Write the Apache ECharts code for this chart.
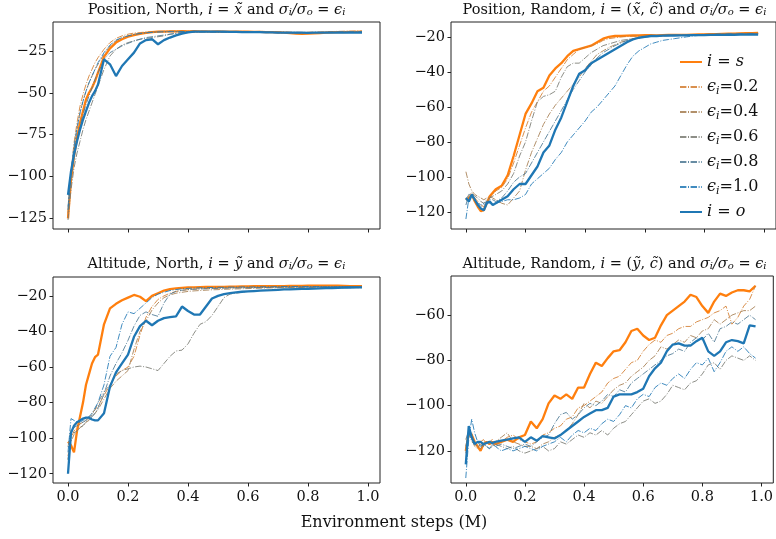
<!DOCTYPE html>
<html><head><meta charset="utf-8">
<script src="https://cdn.jsdelivr.net/npm/echarts@6/dist/echarts.min.js"></script>
<style>html,body{margin:0;padding:0;background:#fff}#c{width:776px;height:539px}</style>
</head><body><div id="c"></div>
<script>
// Environment steps (M)
const X = [0,0.01,0.02,0.03,0.04,0.05,0.06,0.07,0.08,0.09,0.10,0.12,0.14,0.16,0.18,0.20,0.22,0.24,0.26,0.28,0.30,0.32,0.34,0.36,0.38,0.40,0.42,0.44,0.46,0.48,0.50,0.52,0.54,0.56,0.58,0.60,0.62,0.64,0.66,0.68,0.70,0.72,0.74,0.76,0.78,0.80,0.82,0.84,0.86,0.88,0.90,0.92,0.94,0.96,0.98];

// Tick labels
const X_TICKS = [0,0.2,0.4,0.6,0.8,1.0];
const Y_TICKS_1 = [-125,-100,-75,-50,-25];
const Y_TICKS_2 = [-120,-100,-80,-60,-40,-20];
const Y_TICKS_3 = [-120,-100,-80,-60,-40,-20];
const Y_TICKS_4 = [-120,-100,-80,-60];

const SERIES_NAMES = ['s','0.2','0.4','0.6','0.8','1.0','o'];
const TITLES = [
  'Position, North, {m|i} = {m|x\u0303} and {m|σ}{s|i}{m|/σ}{s|o} = {m|ϵ}{s|i}',
  'Position, Random, {m|i} = ({m|x\u0303}, {m|c\u0303}) and {m|σ}{s|i}{m|/σ}{s|o} = {m|ϵ}{s|i}',
  'Altitude, North, {m|i} = {m|y\u0303} and {m|σ}{s|i}{m|/σ}{s|o} = {m|ϵ}{s|i}',
  'Altitude, Random, {m|i} = ({m|y\u0303}, {m|c\u0303}) and {m|σ}{s|i}{m|/σ}{s|o} = {m|ϵ}{s|i}'
];

// Panel 1: Position, North
const P1_S   = [-125,-102,-88,-77,-68,-61,-54,-50,-47,-43,-38, -28.5,-23.5,-20,-18,-16.5,-15.5,-14.8,-14.2,-13.8,-13.5, -13.4,-13.3,-13.3,-13.2,-13.3,-13.2,-13.3,-13.3,-13.4,-13.3, -13.4,-13.5,-13.4,-13.5,-13.5,-13.6,-13.6,-13.7,-13.8,-13.9, -14.1,-14.3,-14.6,-14.8,-14.7,-14.5,-14.3,-14.1,-13.9,-13.8, -13.7,-13.6,-13.6,-13.5];
const P1_E02 = [-124,-98,-80,-68,-58,-51,-45,-40,-36,-32,-29, -24,-20,-17.5,-16,-15,-14.3,-14,-13.7,-13.5,-13.3, -13.2,-13.1,-13.1,-13.2,-13.1,-13.2,-13.2,-13.3,-13.2,-13.3, -13.3,-13.4,-13.3,-13.3,-13.4,-13.4,-13.3,-13.4,-13.5,-13.5, -13.6,-13.7,-13.8,-13.9,-13.8,-13.7,-13.6,-13.5,-13.4,-13.3, -13.2,-13.2,-13.1,-13.1];
const P1_E04 = [-122,-100,-84,-72,-62,-55,-49,-44,-40,-36,-33, -27,-22,-19,-17,-16,-15,-14.5,-14,-13.8,-13.6, -13.5,-13.4,-13.4,-13.3,-13.4,-13.4,-13.5,-13.4,-13.5,-13.5, -13.6,-13.6,-13.7,-13.7,-13.7,-13.8,-13.8,-13.9,-13.9,-14, -14,-14.1,-14.1,-14.1,-14.0,-14.0,-13.9,-13.9,-13.8,-13.8, -13.7,-13.7,-13.6,-13.6];
const P1_E06 = [-126,-108,-95,-86,-79,-72,-66,-61,-56,-51,-46, -36,-28,-24,-21.5,-20,-19,-18,-17.5,-17,-16.5, -16,-15,-14.5,-14,-13.8,-13.7,-13.6,-13.6,-13.5,-13.6, -13.6,-13.7,-13.7,-13.8,-13.8,-13.9,-13.9,-14,-14,-14.1, -14.1,-14.2,-14.2,-14.1,-14.1,-14,-14,-13.9,-13.9,-13.8, -13.8,-13.7,-13.7,-13.7];
const P1_E08 = [-118,-100,-88,-78,-70,-63,-57,-52,-47,-42,-38, -30,-26,-24,-22,-20.5,-19,-18,-17,-16.5,-16, -15.5,-15,-14.5,-14,-13.7,-13.6,-13.5,-13.5,-13.6,-13.6, -13.7,-13.7,-13.8,-13.8,-13.9,-13.9,-14,-14,-14,-14.1, -14.1,-14.1,-14.2,-14.2,-14.1,-14.1,-14,-14,-13.9,-13.9, -13.8,-13.8,-13.8,-13.7];
const P1_E10 = [-120,-97,-82,-71,-62,-55,-49,-44,-40,-36,-32, -26,-21.5,-18.5,-17,-16,-15.2,-14.6,-14.2,-13.9,-13.7, -13.6,-13.5,-13.5,-13.4,-13.4,-13.5,-13.5,-13.5,-13.6,-13.6, -13.6,-13.7,-13.7,-13.8,-13.8,-13.8,-13.9,-13.9,-14,-14, -14,-14.1,-14.1,-14.1,-14,-14,-14,-13.9,-13.9,-13.8, -13.8,-13.8,-13.7,-13.7];
const P1_O   = [-111,-97,-87,-79,-72,-66,-61,-56,-52,-49,-45, -30,-33,-40,-34,-30,-26,-20.5,-18.5,-18,-21, -18.5,-17,-15.7,-14.6,-13.9,-13.5,-13.4,-13.4,-13.5,-13.4, -13.5,-13.6,-13.6,-13.7,-13.7,-13.8,-13.8,-13.9,-13.9,-14, -14,-14.1,-14.1,-14.1,-14.2,-14.1,-14.1,-14.1,-14.0,-14.1, -14.1,-14.0,-14.1,-14.1];

// Panel 2: Position, Random
const P2_S   = [-113,-112,-110,-114,-117,-119.5,-119,-115,-111,-109,-107, -105,-99,-88,-76,-64,-58,-51,-49,-42,-38, -35,-31,-28,-27,-26,-25,-23,-21,-20,-19.5, -19.5,-19.3,-19.2,-19.2,-19,-19,-19.1,-19,-18.9,-18.9, -18.8,-18.8,-18.7,-18.6,-18.6,-18.5,-18.4,-18.3,-18.2,-18.1, -18,-17.9,-17.8,-17.7];
const P2_E02 = [-112,-113,-111,-112,-114,-116,-117,-115,-112,-110,-108, -106,-101,-92,-82,-72,-63,-57,-51,-48,-43, -38,-33,-30,-27,-26,-25,-24,-22,-21,-20.5, -20,-19.8,-19.6,-19.5,-19.4,-19.3,-19.2,-19.1,-19,-19, -18.9,-18.8,-18.7,-18.6,-18.5,-18.4,-18.3,-18.2,-18.1,-18, -18,-17.9,-17.9,-17.8];
const P2_E04 = [-97,-104,-108,-110,-111,-112,-113,-112,-111,-112,-113, -115,-116,-112,-108,-96,-86,-78,-70,-64,-59, -55,-51,-47,-43,-38,-34,-30,-28,-26,-24.5, -23,-22,-21,-20.5,-20,-19.7,-19.5,-19.3,-19.2,-19.1, -19,-18.9,-18.8,-18.7,-18.6,-18.5,-18.4,-18.3,-18.2,-18.2, -18.1,-18.1,-18,-18];
const P2_E06 = [-113,-110,-109,-111,-112,-114,-115,-113,-112,-111,-110, -108,-104,-98,-88,-80,-68,-57,-54,-53,-51, -43,-37,-35,-35,-32,-29,-27,-25,-24,-23, -22,-21.5,-21,-20.5,-20,-19.8,-19.6,-19.4,-19.3,-19.2, -19.1,-19,-18.9,-18.8,-18.8,-18.7,-18.6,-18.6,-18.5,-18.5, -18.4,-18.4,-18.3,-18.3];
const P2_E08 = [-116,-110,-111,-114,-116,-117,-116,-114,-113,-113,-114, -112,-108,-103,-100,-98,-92,-86,-80,-74,-68, -62,-56,-50,-45,-40,-36,-32,-29,-27,-25, -23.5,-22,-21,-20.5,-20,-19.8,-19.6,-19.4,-19.3,-19.2, -19.1,-19,-18.9,-18.8,-18.8,-18.7,-18.6,-18.6,-18.5,-18.5, -18.5,-18.4,-18.4,-18.4];
const P2_E10 = [-124,-112,-111,-113,-115,-116,-115,-114,-115,-116,-115, -114,-113,-113,-112,-110,-104,-101,-98,-95,-90, -86,-80,-76,-72,-68,-63,-60,-56,-52,-48, -42,-36,-31,-28,-26,-24,-23,-22,-21.5,-21, -20.5,-20,-19.5,-19.2,-19,-18.8,-18.5,-18.5,-18.4,-18.4, -18.4,-18.3,-18.3,-18.3];
const P2_O   = [-112,-114,-110,-113,-116,-118,-119,-115,-114,-116,-115, -113,-111,-107,-104,-104,-99,-94,-86,-82,-73, -66,-57,-48,-41,-39,-35,-33,-31,-29,-27, -25,-23,-21.5,-20.5,-20,-19.5,-19.5,-19.3,-19.2,-19.2, -19.1,-19.1,-19,-19,-19,-18.9,-18.9,-18.8,-18.8,-18.8, -18.7,-18.7,-18.7,-18.7];

// Panel 3: Altitude, North
const P3_S   = [-102,-104,-108,-96,-88,-80,-70,-64,-58,-54.5,-53, -36,-27,-24.5,-22.5,-21,-19.5,-20.5,-23,-20,-18.5, -17,-16.2,-15.8,-15.5,-15.3,-15.2,-15.1,-15,-15,-14.9, -14.9,-14.8,-14.8,-14.7,-14.7,-14.6,-14.6,-14.6,-14.5,-14.5, -14.5,-14.4,-14.4,-14.4,-14.3,-14.3,-14.3,-14.2,-14.2,-14.3, -14.4,-14.5,-14.5,-14.6];
const P3_E02 = [-110,-100,-96,-94,-92,-91,-90,-88,-86,-84,-82, -76,-70,-65,-62,-60,-54,-42,-32,-26,-22, -20,-18.5,-17.5,-17,-16.5,-16.2,-16,-15.9,-15.8,-15.7, -15.6,-15.5,-15.5,-15.4,-15.4,-15.3,-15.3,-15.2,-15.2,-15.1, -15.1,-15,-15,-15,-14.9,-14.9,-14.9,-14.8,-14.8,-14.8, -14.8,-14.9,-14.9,-15];
const P3_E04 = [-112,-102,-98,-96,-94,-93,-91,-90,-88,-86,-84, -78,-72,-68,-65,-62,-50,-40,-34,-28,-24, -21,-19.5,-18.5,-18,-17.5,-17.2,-17,-16.8,-16.6,-16.5, -16.3,-16.2,-16.1,-16,-15.9,-15.8,-15.7,-15.6,-15.5,-15.5, -15.4,-15.4,-15.3,-15.3,-15.2,-15.2,-15.2,-15.1,-15.1,-15.1, -15.1,-15.1,-15.2,-15.2];
const P3_E06 = [-105,-95,-97,-96,-94,-93,-91,-89,-87,-84,-80, -74,-70,-64,-62,-61,-60,-59.5,-60,-61,-62, -58,-54,-51,-50.5,-47,-41,-36,-34.5,-31,-26, -21,-19,-18.5,-18,-17.5,-17.2,-17,-16.8,-16.6,-16.5, -16.3,-16.2,-16.1,-16,-15.9,-15.8,-15.7,-15.6,-15.6,-15.5, -15.5,-15.4,-15.4,-15.4];
const P3_E08 = [-112,-96,-94,-93,-92,-91,-90,-89,-88,-86,-83, -75,-65,-58,-52,-45,-37,-31,-29,-30.5,-31.5, -24,-19,-17.5,-16.8,-16.5,-16.3,-16.1,-16,-15.9,-15.8, -15.7,-15.6,-15.5,-15.5,-15.4,-15.4,-15.3,-15.3,-15.2,-15.2, -15.1,-15.1,-15.1,-15,-15,-15,-14.9,-14.9,-14.9,-14.9, -14.9,-15,-15,-15];
const P3_E10 = [-108,-89,-90,-91,-91,-90,-89,-88,-86,-83,-80, -70,-54,-49,-36,-29,-30,-27,-24,-21,-19, -18,-17,-16.5,-16,-15.8,-15.6,-15.5,-15.4,-15.3,-15.2, -15.2,-15.1,-15.1,-15,-15,-15,-14.9,-14.9,-14.9,-14.8, -14.8,-14.8,-14.8,-14.8,-14.8,-14.8,-14.8,-14.9,-14.9,-14.9, -14.9,-15,-15,-15];
const P3_O   = [-120,-97,-93,-91,-90,-89,-88.5,-88.5,-89.5,-90,-90, -86,-71,-63,-58,-53,-43,-37,-34,-36.5,-34, -32.5,-32,-31.5,-26,-28.5,-30.5,-30.5,-26,-21.5,-20, -19,-18.5,-18,-17.7,-17.5,-17.3,-17.1,-16.9,-16.8,-16.6, -16.4,-16.3,-16.2,-16.1,-16,-15.9,-15.8,-15.7,-15.6,-15.5, -15.4,-15.3,-15.2,-15.2];

// Panel 4: Altitude, Random
const P4_S   = [-120,-112,-113,-116,-118,-120,-117,-116,-117,-116,-117, -116,-115,-116,-114,-113,-107,-110,-106,-99,-95.5, -97,-95,-97,-92,-92,-86,-81,-82.5,-79,-76, -75.5,-72,-67,-66,-69,-71,-70,-64.5,-60,-58, -56,-54,-51,-52,-56,-59,-54,-50.5,-51.5,-50, -49,-49,-49.5,-47];
const P4_E02 = [-121,-114,-112,-117,-118,-116,-115,-117,-116,-115,-117, -116,-114,-113,-115,-116,-117,-116,-113,-112,-110, -109,-106,-105,-101,-100,-98,-96,-94,-90,-88, -87,-84,-81,-80,-76,-73,-71,-72,-69,-68, -66,-65,-65,-63,-62,-61,-59,-58,-56,-64, -61,-56,-53,-47];
const P4_E04 = [-119,-113,-115,-118,-119,-117,-118,-116,-117,-118,-116, -114,-112,-116,-117,-118,-118,-119,-117,-116,-114, -113,-111,-108,-104,-99,-101,-98,-99,-96,-93, -91,-90,-87,-85,-83,-80,-78,-74,-75,-73, -71,-72,-69,-70,-67,-66,-62,-64,-62,-60, -59,-58,-58,-56];
const P4_E06 = [-115,-111,-116,-117,-118,-119,-117,-118,-119,-118,-117, -118,-119,-118,-120,-121,-120,-119,-118,-120,-119, -116,-117,-115,-113,-114,-112,-113,-111,-113,-110, -108,-107,-104,-101,-98,-97,-99,-98,-95,-91, -92,-93,-90,-89,-86,-82,-81,-84,-80,-78, -79,-80,-78,-80];
const P4_E08 = [-118,-112,-114,-116,-117,-116,-118,-117,-116,-117,-118, -117,-118,-119,-118,-117,-118,-116,-114,-113,-108, -104,-103,-106,-104,-101,-99,-100,-98,-95,-96, -93,-94,-90,-88,-86,-84,-82,-80,-78,-77, -75,-76,-72,-70,-71,-68,-72,-66,-65,-63, -64,-62,-60,-62];
const P4_E10 = [-132,-115,-106,-112,-116,-118,-117,-118,-119,-117,-118, -120,-119,-120,-119,-118,-119,-120,-118,-117,-116, -114,-116,-113,-111,-112,-110,-111,-108,-106,-107, -104,-100,-101,-97,-95,-96,-92,-90,-91,-88, -86,-88,-84,-81,-82,-79,-85,-81,-76,-74, -76,-74,-77,-79];
const P4_O   = [-126,-109,-114,-117,-116,-116,-117,-116.5,-116,-116.5,-116, -115.5,-115,-114.5,-114,-116,-114,-115.5,-113.5,-114,-114.5, -113,-111,-109,-107,-105,-103.5,-102,-102,-101,-96, -95,-95,-95,-94,-92.5,-87,-83.5,-81,-76,-73, -72.5,-73.5,-73.5,-71.5,-70,-76,-78,-76,-72,-71, -71.5,-72.5,-64.5,-65];

const PANELS = [
  {series:[P1_S,P1_E02,P1_E04,P1_E06,P1_E08,P1_E10,P1_O], ticks:Y_TICKS_1, min:-131.4, max:-7.7, grid:{left:53, top:22, width:327, height:207}, xlab:false, tx:216.5, ty:10},
  {series:[P2_S,P2_E02,P2_E04,P2_E06,P2_E08,P2_E10,P2_O], ticks:Y_TICKS_2, min:-129.7, max:-11.5, grid:{left:451, top:22, width:327, height:207}, xlab:false, tx:614.5, ty:10},
  {series:[P3_S,P3_E02,P3_E04,P3_E06,P3_E08,P3_E10,P3_O], ticks:Y_TICKS_3, min:-125.2, max:-9.4, grid:{left:53, top:277, width:327, height:206}, xlab:true, tx:216.5, ty:264},
  {series:[P4_S,P4_E02,P4_E04,P4_E06,P4_E08,P4_E10,P4_O], ticks:Y_TICKS_4, min:-134.2, max:-42.7, grid:{left:451, top:276, width:327, height:207}, xlab:true, tx:614.5, ty:264}
];

const DD = [6.4,1.6,1,1.6];
const STYLES = [
  {color:'#ff7f0e', width:2.3, type:'solid', opacity:1},
  {color:'#d27d2f', width:1, type:DD, opacity:0.85},
  {color:'#a57c50', width:1, type:DD, opacity:0.85},
  {color:'#797a72', width:1, type:DD, opacity:0.85},
  {color:'#4c7893', width:1, type:DD, opacity:0.85},
  {color:'#1f77b4', width:1, type:DD, opacity:0.85},
  {color:'#1f77b4', width:2.3, type:'solid', opacity:1}
];

const FONT = 'DejaVu Serif';
const minus = v => (v < 0 ? '\u2212' + Math.abs(v) : String(v));

const grids = [], xAxes = [], yAxes = [], series = [], graphics = [];
PANELS.forEach((p, k) => {
  grids.push(Object.assign({show:true, borderColor:'#222', borderWidth:1, containLabel:false}, p.grid));
  xAxes.push({
    type:'value', gridIndex:k, min:-0.05, max:1.04, position:'bottom',
    axisLine:{show:false, onZero:false}, splitLine:{show:false},
    axisTick:{show:true, inside:false, length:3.5, lineStyle:{color:'#222', width:1}, customValues:X_TICKS},
    axisLabel:{show:p.xlab, margin:7, color:'#111', fontFamily:FONT, fontSize:14.5, customValues:X_TICKS, formatter:v => v.toFixed(1)}
  });
  yAxes.push({
    type:'value', gridIndex:k, min:p.min, max:p.max, position:'left',
    axisLine:{show:false, onZero:false}, splitLine:{show:false},
    axisTick:{show:true, inside:false, length:3.5, lineStyle:{color:'#222', width:1}, customValues:p.ticks},
    axisLabel:{show:true, margin:6, color:'#111', fontFamily:FONT, fontSize:14.5, customValues:p.ticks, formatter:v => minus(v)}
  });
  p.series.forEach((arr, j) => {
    series.push({
      type:'line', name:SERIES_NAMES[j], xAxisIndex:k, yAxisIndex:k,
      data:X.map((x, i) => [x, arr[i]]),
      showSymbol:false, symbol:'none', silent:true, clip:true,
      lineStyle:{color:STYLES[j].color, width:STYLES[j].width, type:STYLES[j].type, opacity:STYLES[j].opacity},
      itemStyle:{color:STYLES[j].color}, z:2 + j
    });
  });
  graphics.push({
    type:'text', x:p.tx, y:p.ty, silent:true,
    style:{
      text:TITLES[k], align:'center', verticalAlign:'middle', fill:'#111',
      fontFamily:FONT, fontSize:14.5,
      rich:{
        m:{fontFamily:FONT, fontSize:14.5, fontStyle:'italic', fill:'#111'},
        s:{fontFamily:FONT, fontSize:10, fontStyle:'italic', fill:'#111', verticalAlign:'bottom', lineHeight:12}
      }
    }
  });
});
graphics.push({
  type:'text', x:394, y:523, silent:true,
  style:{text:'Environment steps (M)', align:'center', verticalAlign:'middle', fill:'#111', fontFamily:FONT, fontSize:16}
});

const legendLabel = name => {
  if (name === 's') return '{m|i} = {m|s}';
  if (name === 'o') return '{m|i} = {m|o}';
  return '{m|ϵ}{s|i}{n|=' + name + '}';
};

const chart = echarts.init(document.getElementById('c'));
chart.setOption({
  animation:false,
  backgroundColor:'#fff',
  grid:grids, xAxis:xAxes, yAxis:yAxes, series:series, graphic:graphics,
  legend:{
    show:true, orient:'vertical', left:674, top:47, itemWidth:22, itemHeight:10, itemGap:5,
    data:SERIES_NAMES, selectedMode:false,
    itemStyle:{opacity:0},
    formatter:legendLabel,
    textStyle:{
      color:'#111', fontFamily:FONT, fontSize:16, lineHeight:20,
      rich:{
        m:{fontFamily:FONT, fontSize:16, fontStyle:'italic', color:'#111', lineHeight:20},
        n:{fontFamily:FONT, fontSize:16, color:'#111', lineHeight:20},
        s:{fontFamily:FONT, fontSize:11, fontStyle:'italic', color:'#111', verticalAlign:'bottom', lineHeight:14}
      }
    }
  }
});
</script></body></html>
